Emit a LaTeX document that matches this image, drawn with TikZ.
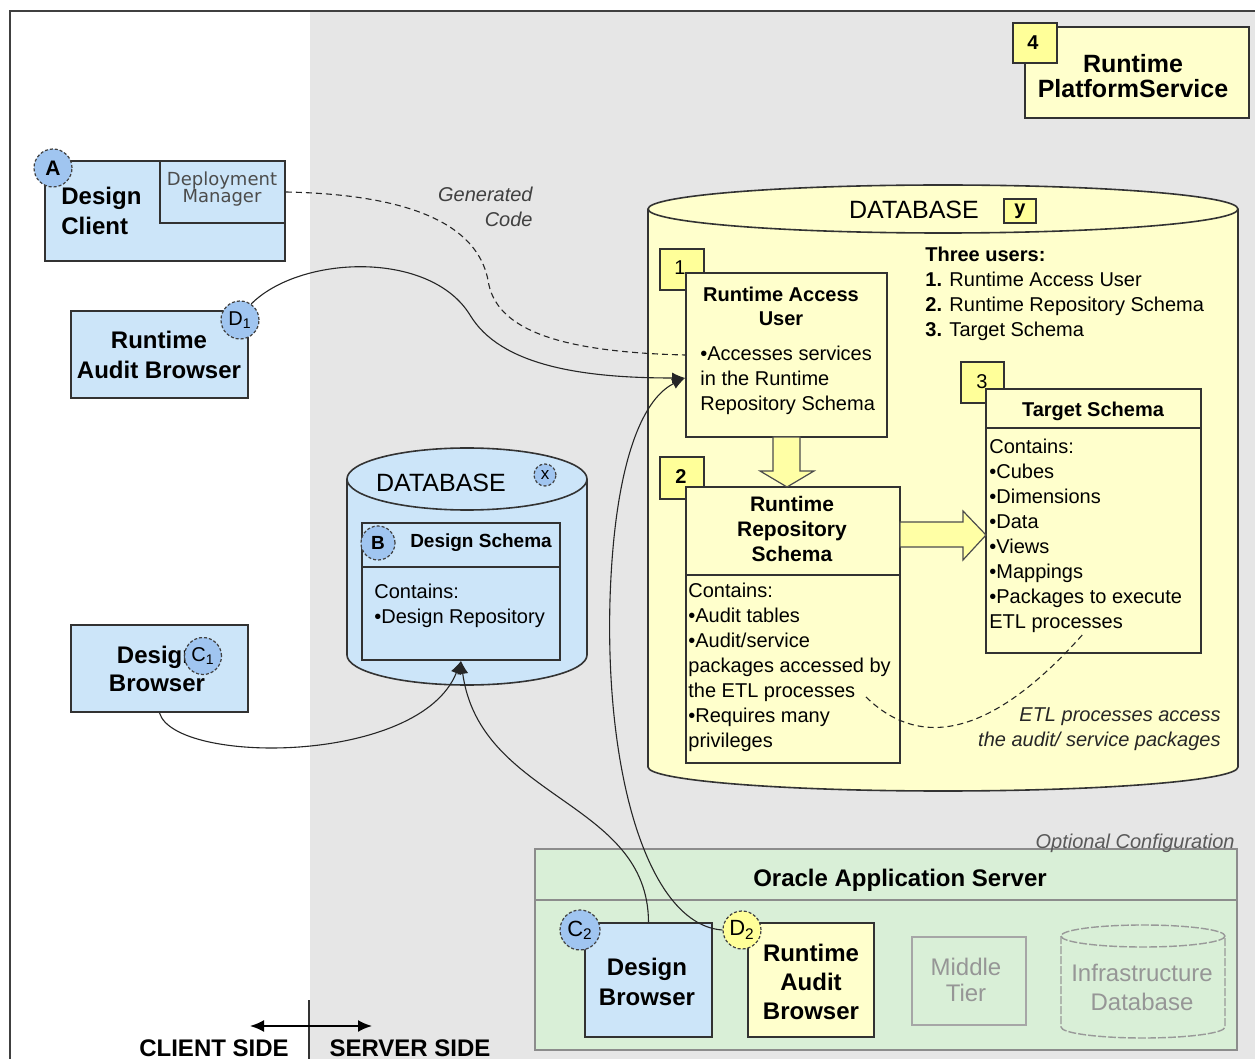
\documentclass[tikz,border=0pt]{standalone}
\usepackage{fontspec}
\setmainfont{Liberation Sans}
\newfontfamily\widefont{DejaVu Sans}
\usetikzlibrary{arrows.meta,fit,calc}
\newcommand\fsz[2]{\fontsize{#1}{#2}\selectfont}
\newcommand\bul{\textbullet}

\definecolor{srvgray}{RGB}{230,230,230}
\definecolor{bluefill}{RGB}{204,229,249}
\definecolor{badgeblue}{RGB}{160,197,240}
\definecolor{paleyellow}{RGB}{255,255,204}
\definecolor{tagyellow}{RGB}{255,255,153}
\definecolor{arrowyellow}{RGB}{255,255,165}
\definecolor{palegreen}{RGB}{217,239,215}
\definecolor{edge}{RGB}{50,50,50}
\definecolor{fainttext}{RGB}{150,150,150}

\begin{document}
\begin{tikzpicture}[x=0.5pt,y=-0.5pt,
  boxblue/.style={draw=edge, line width=0.9pt, fill=bluefill, inner sep=0pt},
  boxyel/.style={draw=edge, line width=0.9pt, fill=paleyellow, inner sep=0pt},
  tag/.style={draw=edge, line width=0.9pt, fill=tagyellow, inner sep=0pt},
  badge/.style={circle, draw=black!75, line width=0.6pt, dash pattern=on 1.5pt off 1pt,
                fill=badgeblue, inner sep=0pt, minimum size=#1},
  badge/.default=19pt,
  title/.style={font=\bfseries\fsz{10}{12}, align=center, inner sep=0pt},
  body/.style={font=\fsz{10}{12.5}, align=left, inner sep=0pt, anchor=west},
  big/.style={font=\bfseries\fsz{12}{15}, align=center, inner sep=0pt},
  note/.style={font=\itshape\fsz{10}{12.5}, align=right, inner sep=0pt, anchor=east, text=black!75},
  hline/.style={draw=edge, line width=0.9pt},
  cyl/.style={draw=black!80, line width=0.8pt},
  link/.style={draw=black!85, line width=0.55pt},
  endtip/.style={-{Latex[length=6.5pt,width=5.5pt]}},
  dashlink/.style={link, dash pattern=on 3pt off 2pt},
  blockarrow/.style={fill=arrowyellow, draw=black!70, line width=0.6pt, line join=miter}
]
\useasboundingbox (0,0) rectangle (1255,1059);

% client side / server side backgrounds and frame
\fill[white] (0,0) rectangle (1255,1059);
\fill[srvgray] (310,12) rectangle (1255,1059);
\draw[black!75, line width=1pt] (10,1070) -- (10,11) -- (1262,11);

% ---------- client side ----------
\node[boxblue, fit={(45,161)(285,261)}] (dc) {};
\node[boxblue, fit={(160,161)(285,223)}] (dm) {};
\node[font=\widefont\fsz{9}{8.7}, text=black!70, align=center, inner sep=0pt] (dmtext) at (222,189) {Deployment\\Manager};
\node[big, align=left, anchor=west] (dctext) at (61,211) {Design\\Client};
\node[badge=19pt, font=\bfseries\fsz{10.5}{12}] (cA) at (53,168) {A};

\node[boxblue, fit={(71,311)(248,398)}] (rab1) {};
\node[big] (rab1text) at (159,355) {Runtime\\Audit Browser};
\node[badge=19pt, font=\fsz{10}{12}] (cD1) at (240,320) {D\textsubscript{1}};

\node[boxblue, fit={(71,625)(248,712)}] (db1) {};
\node[big, font=\bfseries\fsz{12}{14}] (db1text) at (157,669) {Design\\Browser};
\node[badge=18.5pt, font=\fsz{10}{12}] (cC1) at (203,656) {C\textsubscript{1}};

% ---------- design repository database ----------
\fill[bluefill] (467,479) ellipse[x radius=120, y radius=31];
\fill[bluefill] (347,479) rectangle (587,655);
\fill[bluefill] (467,655) ellipse[x radius=120, y radius=30];
\draw[cyl] (467,479) ellipse[x radius=120, y radius=31];
\draw[cyl] (347,479) -- (347,655) arc[start angle=180, end angle=0, x radius=120, y radius=30] -- (587,479);
\node[font=\fsz{12.5}{14}, inner sep=0pt] (dbxlabel) at (441,483) {DATABASE};
\node[badge=11pt, font=\fsz{8.5}{10}] (cx) at (545,475) {x};
\node[boxblue, fit={(362,523)(560,660)}] (ds) {};
\draw[hline] (362,567) -- (560,567);
\node[badge=17pt, font=\bfseries\fsz{9.5}{11}] (cB) at (378,543) {B};
\node[title, font=\bfseries\fsz{9.5}{11}] (dstitle) at (481,543) {Design Schema};
\node[body] (dsbody) at (374,606) {Contains:\\\bul Design Repository};

% ---------- runtime database ----------
\fill[paleyellow] (943,209) ellipse[x radius=295, y radius=24];
\fill[paleyellow] (648,209) rectangle (1238,767);
\fill[paleyellow] (943,767) ellipse[x radius=295, y radius=24];
\draw[cyl] (943,209) ellipse[x radius=295, y radius=24];
\draw[cyl] (648,209) -- (648,767) arc[start angle=180, end angle=0, x radius=295, y radius=24] -- (1238,209);
\node[font=\fsz{12.5}{14}, inner sep=0pt] (dbylabel) at (914,210) {DATABASE};
\node[tag, fit={(1004,199)(1036,223)}] (ytag) {};
\node[font=\bfseries\fsz{10}{12}, inner sep=0pt] (ytext) at (ytag.center) {y};

\node[tag, fit={(660,249)(704,290)}] (t1) {};
\node[font=\fsz{10}{12}, inner sep=0pt] (t1text) at (680,268) {1};
\node[boxyel, fit={(686,273)(887,437)}] (rau) {};
\node[title] (rautitle) at (781,306) {Runtime Access\\User};
\node[body] (raubody) at (700,380) {\bul Accesses services\\in the Runtime\\Repository Schema};

\node[body] (users) at (925,294) {\textbf{Three users:}\\\textbf{1.} Runtime Access User\\\textbf{2.} Runtime Repository Schema\\\textbf{3.} Target Schema};

\node[tag, fit={(660,457)(704,499)}] (t2) {};
\node[font=\bfseries\fsz{10}{12}, inner sep=0pt] (t2text) at (681,477) {2};
\node[boxyel, fit={(686,487)(900,763)}] (rrs) {};
\draw[hline] (686,575) -- (900,575);
\node[title, font=\bfseries\fsz{10.5}{12.5}] (rrstitle) at (792,529) {Runtime\\Repository\\Schema};
\node[body] (rrsbody) at (688,667) {Contains:\\\bul Audit tables\\\bul Audit/service\\packages accessed by\\the ETL processes\\\bul Requires many\\privileges};

\node[tag, fit={(961,362)(1004,403)}] (t3) {};
\node[font=\fsz{10}{12}, inner sep=0pt] (t3text) at (982,382) {3};
\node[boxyel, fit={(986,389)(1201,653)}] (ts) {};
\draw[hline] (986,428) -- (1201,428);
\node[title] (tstitle) at (1093,411) {Target Schema};
\node[body] (tsbody) at (989,536) {Contains:\\\bul Cubes\\\bul Dimensions\\\bul Data\\\bul Views\\\bul Mappings\\\bul Packages to execute\\ETL processes};

% block arrows between the schemas
\filldraw[blockarrow] (773,437) -- (773,471) -- (760,471) -- (787,487) -- (814,471) -- (800,471) -- (800,437) -- cycle;
\filldraw[blockarrow] (900,522) -- (963,522) -- (963,511) -- (986,535) -- (963,560) -- (963,547) -- (900,547) -- cycle;

\node[note, text=black!85] (etlnote) at (1221,729) {ETL processes access\\the audit/ service packages};
\coordinate (etlA) at (866,697);
\coordinate (etlB) at (1084,633);

% ---------- platform service ----------
\node[boxyel, fit={(1025,27)(1249,118)}] (rps) {};
\node[tag, fit={(1013,23)(1057,63)}] (t4) {};
\node[font=\bfseries\fsz{10}{12}, inner sep=0pt] (t4text) at (1033,43) {4};
\node[big, font=\bfseries\fsz{12.5}{12.5}] (rpstext) at (1133,76) {Runtime\\PlatformService};

% ---------- application server ----------
\node[fit={(535,849)(1237,1050)}, fill=palegreen, draw=black!45, line width=0.7pt, inner sep=0pt] (oas) {};
\draw[black!45, line width=0.7pt] (535,900) -- (1237,900);
\node[font=\bfseries\fsz{12}{14}, inner sep=0pt] (oastitle) at (900,880) {Oracle Application Server};
\node[note, text=black!65] (optcfg) at (1235,843) {Optional Configuration};

\node[boxblue, fit={(585,923)(712,1037)}] (db2) {};
\node[big] (db2text) at (647,982) {Design\\Browser};
\node[badge=20pt, font=\fsz{11}{12}] (cC2) at (580,930) {C\textsubscript{2}};

\node[boxyel, fit={(748,923)(874,1037)}] (rab2) {};
\node[big, font=\bfseries\fsz{12}{14.5}] (rab2text) at (811,982) {Runtime\\Audit\\Browser};
\node[badge=19pt, fill=tagyellow, font=\fsz{11}{12}] (cD2) at (742,930) {D\textsubscript{2}};

\node[fit={(912,937)(1026,1025)}, draw=black!35, line width=0.7pt, inner sep=0pt] (mt) {};
\node[font=\fsz{12}{13}, text=fainttext, align=center, inner sep=0pt] (mttext) at (966,980) {Middle\\Tier};

\draw[black!40, line width=0.7pt, dash pattern=on 4pt off 1pt] (1143,936) ellipse[x radius=82, y radius=11];
\draw[black!40, line width=0.7pt, dash pattern=on 4pt off 1pt] (1061,936) -- (1061,1027) arc[start angle=180, end angle=0, x radius=82, y radius=11] -- (1225,936);
\node[font=\fsz{12}{14.5}, text=fainttext, align=center, inner sep=0pt] (infratext) at (1142,987) {Infrastructure\\Database};

% ---------- client / server divide ----------
\draw[black!80, line width=0.8pt] (309,1000) -- (309,1065);
\coordinate (csl) at (250,1026);
\coordinate (csr) at (372,1026);
\draw[black, line width=1pt, {Latex[length=7pt,width=6pt]}-{Latex[length=7pt,width=6pt]}] (csl) -- (csr);
\node[font=\bfseries\fsz{12}{14}, inner sep=0pt] (client) at (214,1048) {CLIENT SIDE};
\node[font=\bfseries\fsz{12}{14}, inner sep=0pt] (server) at (410,1048) {SERVER SIDE};

\node[note] (gencode) at (533,207) {Generated\\Code};

% ---------- connectors ----------
\draw[dashlink] (dm.east) .. controls (440,195) and (480,240) .. (488,280)
   .. controls (495,330) and (560,352) .. (rau.west);
\draw[link, endtip] (cD1.55) .. controls (300,255) and (430,250) .. (470,315)
   .. controls (500,365) and (580,378) .. ([yshift=-11.5pt]rau.west);
\draw[link, endtip] (cD2.west) .. controls (650,925) and (605,780) .. (610,600)
   .. controls (614,470) and (640,400) .. ([yshift=-11.5pt]rau.west);
\draw[link, endtip] (db1.south) .. controls (175,765) and (420,765) .. (ds.south);
\draw[link, endtip] (db2.north) .. controls (648,800) and (480,800) .. (ds.south);
\draw[dashlink] (etlA) .. controls (915,745) and (985,745) .. (etlB);
\end{tikzpicture}
\end{document}
